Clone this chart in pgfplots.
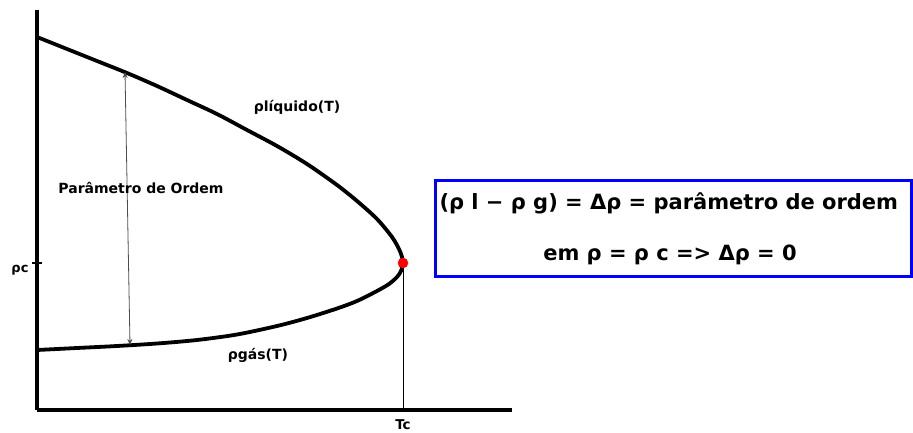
\documentclass[border=0pt]{standalone}
\usepackage{fontspec}
\setmainfont{DejaVu Sans}
\usepackage{pgfplots}
\pgfplotsset{compat=1.18}
\usetikzlibrary{arrows.meta}
\begin{document}
\begin{tikzpicture}[x=1pt,y=1pt]
\useasboundingbox (0,0) rectangle (913,432);
\begin{axis}[
  at={(37pt,22pt)}, anchor=south west,
  scale only axis, width=475pt, height=400pt,
  xmin=0, xmax=475, ymin=0, ymax=400,
  axis lines=left,
  axis line style={-, line width=3.5pt, black},
  xtick={366}, xticklabels={Tc},
  ytick={147}, yticklabels={ρc},
  tick align=center, major tick length=10pt,
  tick style={line width=1.2pt, black},
  xtick style={draw=none},
  xticklabel style={font=\bfseries\fontsize{13.5}{15}\selectfont, yshift=-1pt},
  yticklabel style={font=\bfseries\fontsize{13}{15}\selectfont, yshift=-7pt},
  clip=false,
]
\addplot[black, line width=3.8pt, smooth, tension=0.5] coordinates {
(0,373) (30,361) (60,349) (90,337) (120,324) (150,310) (180,296) (210,280)
(240,264) (270,246) (300,225) (320,209) (340,191) (355,173) (362,161)
(365,153) (366,147) (364,139) (360,133) (352,126) (340,119) (320,109)
(300,101.5) (270,92) (240,84) (200,75.5) (160,70) (120,66.5) (80,64)
(40,62) (0,60)};
\addplot[black, line width=1pt] coordinates {(366,147) (366,0)};
\addplot[black!70, line width=0.8pt, {Stealth[length=6pt,width=5pt]}-{Stealth[length=6pt,width=5pt]}] coordinates {(93,65) (88,338)};
\addplot[only marks, mark=*, red, mark size=5pt] coordinates {(366,147)};
\node[font=\bfseries\fontsize{14}{16}\selectfont] at (axis cs:260,303) {ρlíquido(T)};
\node[font=\bfseries\fontsize{14}{16}\selectfont] at (axis cs:104,222) {Parâmetro de Ordem};
\node[font=\bfseries\fontsize{14}{16}\selectfont] at (axis cs:221,55) {ρgás(T)};
\end{axis}
\draw[blue, line width=3pt] (435,252) rectangle (911,156);
\node[font=\bfseries\fontsize{21}{24}\selectfont, anchor=west] at (436,229) {(ρ l − ρ g) = Δρ = parâmetro de ordem};
\node[font=\bfseries\fontsize{21}{24}\selectfont] at (670,177) {em ρ = ρ c => Δρ = 0};
\end{tikzpicture}
\end{document}
